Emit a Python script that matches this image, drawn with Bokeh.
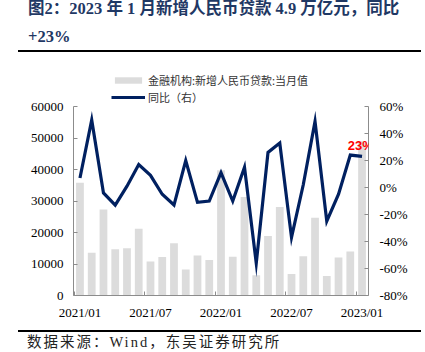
from bokeh.plotting import figure
from bokeh.models import (Range1d, LinearAxis, FixedTicker, Legend, LegendItem, Label, Div,
                          BasicTickFormatter, PrintfTickFormatter, ColumnDataSource)
from bokeh.layouts import column
from bokeh.embed import file_html
from bokeh.resources import INLINE

# ---------------- data ----------------
months = ["2021/01", "2021/02", "2021/03", "2021/04", "2021/05", "2021/06",
          "2021/07", "2021/08", "2021/09", "2021/10", "2021/11", "2021/12",
          "2022/01", "2022/02", "2022/03", "2022/04", "2022/05", "2022/06",
          "2022/07", "2022/08", "2022/09", "2022/10", "2022/11", "2022/12",
          "2023/01"]
loans = [35800, 13600, 27300, 14700, 15000, 21200, 10800, 12200, 16600, 8262, 12700, 11300,
         39800, 12300, 31300, 6454, 18900, 28100, 6790, 12500, 24700, 6152, 12100, 14000,
         49000]
yoy = [7, 50, -4, -13, 1, 17, 9, -5, -13, 20, -11, -10,
       11, -10, 15, -56, 26, 33, -37, 2, 49, -25, -5, 24,
       23]
x_tick_idx = [0, 6, 12, 18, 24]
x_tick_labels = ["2021/01", "2021/07", "2022/01", "2022/07", "2023/01"]
left_ticks = [0, 10000, 20000, 30000, 40000, 50000, 60000]
right_ticks = [-80, -60, -40, -20, 0, 20, 40, 60]
title_line1 = "图2：2023 年 1 月新增人民币贷款 4.9 万亿元，同比"
title_line2 = "+23%"
legend_bar = "金融机构:新增人民币贷款:当月值"
legend_line = "同比（右）"
source_note = "数据来源：Wind，东吴证券研究所"
last_label = "23%"

# ---------------- geometry ----------------
axis_px = 189.0      # height of the drawn axes
extra_px = 42.0      # room above the axes for the legend (inside the frame)
left_lo, left_hi = left_ticks[0], left_ticks[-1]
right_lo, right_hi = right_ticks[0], right_ticks[-1]
left_top = left_hi + (left_hi - left_lo) * extra_px / axis_px
right_top = right_hi + (right_hi - right_lo) * extra_px / axis_px

# ---------------- figure ----------------
src = ColumnDataSource(dict(x=list(range(len(months))), loans=loans, yoy=yoy, m=months))

p = figure(width=425, height=278, output_backend="svg", toolbar_location=None,
           x_range=Range1d(-0.55, 24.55), y_range=Range1d(left_lo, left_top),
           min_border_left=73, min_border_right=57, min_border_top=12, min_border_bottom=35,
           title=None)
p.extra_y_ranges = {"yoy": Range1d(right_lo, right_top)}
p.outline_line_color = None
p.xgrid.visible = False
p.ygrid.visible = False
p.background_fill_color = None
p.border_fill_color = None

axis_col = "#8C8C8C"
tick_font = "Liberation Serif"

bars = p.vbar(x="x", top="loans", width=0.66, source=src, color="#DCDCDC", line_color=None)
line = p.line(x="x", y="yoy", source=src, y_range_name="yoy", line_color="#002060", line_width=3.2,
              line_join="miter")

# x axis
xa = p.xaxis[0]
xa.ticker = FixedTicker(ticks=x_tick_idx, minor_ticks=[-0.5, 5.5, 11.5, 17.5, 23.5])
xa.major_label_overrides = {i: l for i, l in zip(x_tick_idx, x_tick_labels)}
xa.major_tick_in = 0
xa.major_tick_out = 0
xa.minor_tick_in = 4
xa.minor_tick_out = 0
xa.axis_line_color = axis_col
xa.minor_tick_line_color = axis_col
xa.major_label_text_font = tick_font
xa.major_label_text_font_size = "13px"
xa.major_label_text_color = "#000000"
xa.major_label_standoff = 9

# left axis
ya = p.yaxis[0]
ya.ticker = FixedTicker(ticks=left_ticks)
ya.formatter = BasicTickFormatter(use_scientific=False)
ya.bounds = (left_lo, left_hi)
ya.major_tick_in = 4
ya.major_tick_out = 0
ya.minor_tick_line_color = None
ya.axis_line_color = axis_col
ya.major_tick_line_color = axis_col
ya.major_label_text_font = tick_font
ya.major_label_text_font_size = "13px"
ya.major_label_text_color = "#000000"
ya.major_label_standoff = 10

# right axis
ra = LinearAxis(y_range_name="yoy", ticker=FixedTicker(ticks=right_ticks),
                formatter=PrintfTickFormatter(format="%d%%"), bounds=(right_lo, right_hi))
ra.major_tick_in = 4
ra.major_tick_out = 0
ra.minor_tick_line_color = None
ra.axis_line_color = axis_col
ra.major_tick_line_color = axis_col
ra.major_label_text_font = tick_font
ra.major_label_text_font_size = "13px"
ra.major_label_text_color = "#000000"
ra.major_label_standoff = 11
p.add_layout(ra, "right")

# annotation of last value
p.add_layout(Label(x=len(months) - 1.1, y=yoy[-1], y_range_name="yoy", text=last_label,
                   text_align="center", text_baseline="bottom", y_offset=3,
                   text_color="#FF0000", text_font="Liberation Sans", text_font_style="bold",
                   text_font_size="13px"))

# legends (inside the frame, above the axes), one row each for exact spacing
legend_kw = dict(orientation="vertical", glyph_width=34, glyph_height=8, label_height=14,
                 label_standoff=3, spacing=0, padding=0, margin=0,
                 border_line_alpha=0, background_fill_alpha=0,
                 label_text_font="Noto Sans CJK SC", label_text_font_size="11px",
                 label_text_color="#333333")
leg_a = Legend(items=[LegendItem(label=legend_bar, renderers=[bars])], location=(38, 207), **legend_kw)
leg_b = Legend(items=[LegendItem(label=legend_line, renderers=[line])], location=(38, 190), **legend_kw)
p.add_layout(leg_a, "center")
p.add_layout(leg_b, "center")

# ---------------- title & footer ----------------
title_style = ("position:absolute;left:28px;font-family:'Liberation Serif','Noto Sans CJK SC';"
               "font-weight:bold;font-size:16.5px;line-height:18px;color:#1F3864;white-space:nowrap;")
title_html = (
    '<div style="position:relative;width:425px;height:52px;">'
    f'<div style="{title_style}top:0px;">{title_line1}</div>'
    f'<div style="{title_style}top:28px;">{title_line2}</div>'
    '<div style="position:absolute;left:18px;top:50px;width:403px;height:2px;background:#000000;"></div>'
    '</div>')
title_div = Div(text=title_html, width=425, height=52, margin=0)

foot_html = (
    '<div style="position:relative;width:425px;height:22px;">'
    '<div style="position:absolute;left:18px;top:0px;width:403px;height:2px;background:#000000;"></div>'
    '<div style="position:absolute;left:27px;top:3px;font-family:\'Liberation Serif\',\'Noto Sans CJK SC\';'
    'font-size:14.5px;line-height:18px;letter-spacing:2px;color:#222222;white-space:nowrap;">'
    f'{source_note}</div>'
    '</div>')
foot_div = Div(text=foot_html, width=425, height=22, margin=0)

layout = column(title_div, p, foot_div, spacing=0, margin=0)

open("out.html", "w").write(file_html(layout, INLINE))
